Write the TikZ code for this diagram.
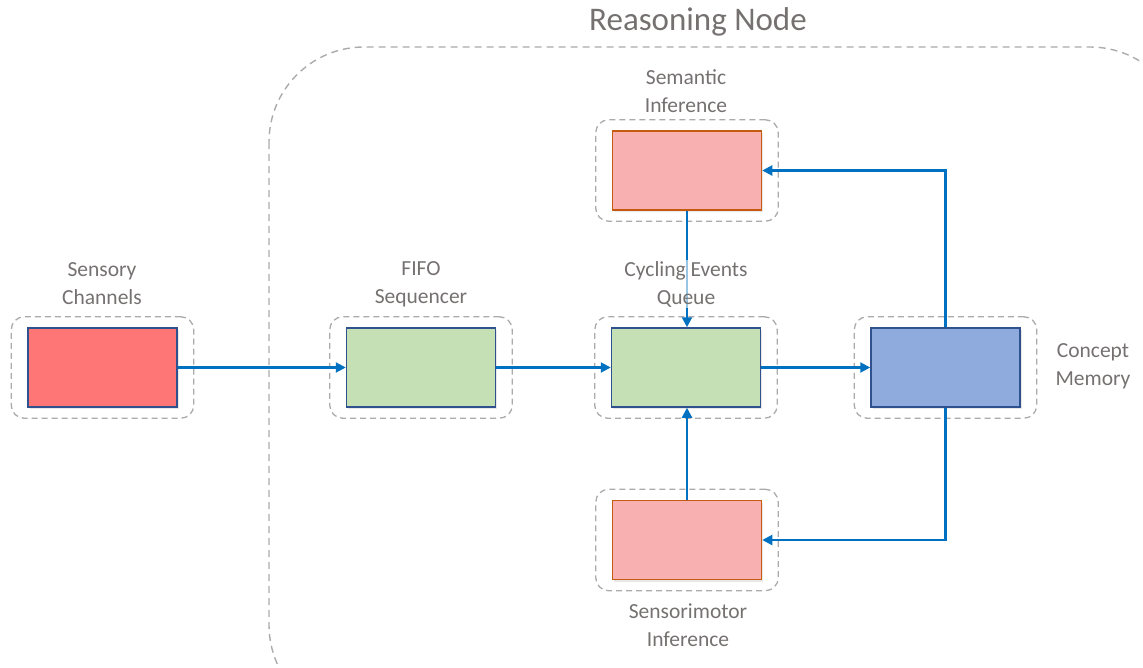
\documentclass[tikz,border=0pt]{standalone}
\usepackage{fontspec}
\setmainfont{Carlito}
\usetikzlibrary{arrows.meta,fit,shadows}
\definecolor{txtgray}{HTML}{767171}
\definecolor{dashgray}{HTML}{ABABAB}
\definecolor{edgeblue}{HTML}{2F528F}
\definecolor{edgeorange}{HTML}{C55A11}
\definecolor{arrowblue}{HTML}{0070C0}
\definecolor{redfill}{HTML}{FF7676}
\definecolor{greenfill}{HTML}{C5E0B4}
\definecolor{bluefill}{HTML}{8FAADC}
\definecolor{pinkfill}{HTML}{F9B0B0}
\tikzset{
  unit/.style={rectangle, minimum width=149pt, minimum height=79pt, line width=1.5pt,
    drop shadow={opacity=0.18, shadow xshift=1.5pt, shadow yshift=-2pt}},
  bluebox/.style={unit, draw=edgeblue},
  orangebox/.style={unit, draw=edgeorange},
  group/.style={draw=dashgray, line width=1.3pt, dash pattern=on 6pt off 4pt,
    rounded corners=13pt, inner xsep=16pt, inner ysep=10.5pt},
  lbl/.style={text=txtgray, font=\fontsize{21.5}{28}\selectfont, align=center,
    fill=white, fill opacity=0.6, text opacity=1, inner sep=1pt},
  flow/.style={draw=arrowblue, line width=2.1pt, -{Triangle[length=10pt,width=10pt]}},
}
\begin{document}
\begin{tikzpicture}[x=1pt,y=-1pt]
\useasboundingbox (0,0) rectangle (1143,667);
\clip (0,0) rectangle (1143,667);

% outer container
\draw[draw=dashgray, line width=1.4pt, dash pattern=on 7pt off 5pt, rounded corners=95pt]
  (269,47) rectangle (1185,720);
\node[text=txtgray, font=\fontsize{33}{36}\selectfont] (title) at (698,22) {Reasoning Node};

% processing units
\node[bluebox, fill=redfill]   (sc)  at (102.5,367.5) {};
\node[bluebox, fill=greenfill] (fifo) at (421,367.5) {};
\node[bluebox, fill=greenfill] (ceq) at (686,367.5) {};
\node[bluebox, fill=bluefill]  (cm)  at (945.5,367.5) {};
\node[orangebox, fill=pinkfill] (si) at (687,170.5) {};
\node[orangebox, fill=pinkfill] (smi) at (687,540) {};

% dashed frames
\node[group, fit=(sc)]   (gsc) {};
\node[group, fit=(fifo)] (gfifo) {};
\node[group, fit=(ceq)]  (gceq) {};
\node[group, fit=(cm)]   (gcm) {};
\node[group, fit=(si)]   (gsi) {};
\node[group, fit=(smi)]  (gsmi) {};

% connectors
\draw[flow] (sc.east) -- (fifo.west);
\draw[flow] (fifo.east) -- (ceq.west);
\draw[flow] (ceq.east) -- (cm.west);
\draw[flow] (cm.north) |- (si.east);
\draw[flow] (cm.south) |- (smi.east);
\draw[flow] (smi.north) -- (smi.north |- ceq.south);
\draw[flow] (si.south) -- (si.south |- ceq.north);

% labels
\node[lbl] (lsc)   at (102,284) {Sensory\\Channels};
\node[lbl] (lfifo) at (421,284) {FIFO\\Sequencer};
\node[lbl] (lceq)  at (686,284) {Cycling Events\\Queue};
\node[lbl, fill opacity=0] (lcm) at (1093,366) {Concept\\Memory};
\node[lbl] (lsi)   at (686,91) {Semantic\\Inference};
\node[lbl] (lsmi)  at (688,625) {Sensorimotor\\Inference};
\end{tikzpicture}
\end{document}
